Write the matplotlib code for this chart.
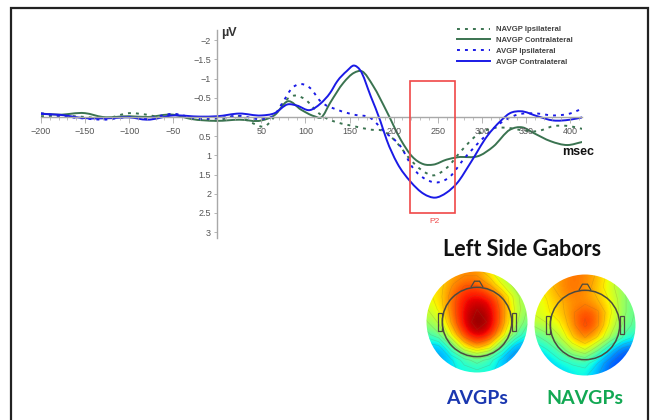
import numpy as np
import matplotlib.pyplot as plt
from matplotlib.lines import Line2D
from matplotlib.path import Path
from matplotlib.patches import Circle, PathPatch, Rectangle, Polygon

W, H = 650, 420

# ERP curves (ms, uV)
avgp_contra_t = [-200, -180, -150, -120, -100, -80, -50, -20, 0, 25, 50, 65, 80, 90, 105, 117, 128, 136, 147, 155,
                 162, 174, 185, 192, 204, 219, 234, 247, 260, 272, 287, 306, 321, 332, 344, 363, 381, 400, 414]
avgp_contra_v = [-0.08, -0.06, 0.03, 0.03, 0.01, 0.07, -0.04, -0.01, -0.02, -0.09, -0.04, -0.1, -0.33, -0.3, -0.18,
                 -0.35, -0.63, -0.93, -1.2, -1.34, -1.22, -0.54, 0.11, 0.59, 1.2, 1.68, 2.0, 2.1, 1.97, 1.72,
                 1.2, 0.5, 0.11, -0.1, -0.15, -0.02, 0.09, 0.07, 0.01]

navgp_contra_t = [-200, -180, -150, -130, -100, -80, -50, -30, 0, 25, 50, 65, 80, 95, 110, 118, 128, 143, 155, 164,
                  177, 192, 208, 221, 234, 245, 260, 272, 298, 313, 332, 346, 359, 378, 397, 414]
navgp_contra_v = [-0.09, -0.06, -0.1, 0.0, -0.02, 0.0, -0.06, 0.05, 0.1, 0.07, 0.09, -0.05, -0.41, -0.19, -0.02,
                  0.01, -0.37, -0.89, -1.15, -1.19, -0.8, -0.15, 0.59, 1.03, 1.23, 1.24, 1.11, 1.05, 1.0, 0.77,
                  0.33, 0.27, 0.42, 0.63, 0.73, 0.65]

avgp_ipsi_t = [-200, -170, -150, -130, -100, -80, -50, -20, 0, 25, 50, 65, 75, 85, 92, 105, 117, 136, 155, 174, 189,
               208, 222, 237, 251, 264, 279, 298, 321, 340, 363, 381, 400, 415]
avgp_ipsi_v = [-0.1, 0.0, 0.04, 0.07, 0.0, 0.03, -0.08, 0.05, 0.03, -0.03, 0.05, -0.06, -0.41, -0.76, -0.85, -0.76,
               -0.41, -0.19, -0.06, 0.03, 0.37, 0.77, 1.33, 1.63, 1.7, 1.55, 1.11, 0.63, 0.16, -0.06, -0.09,
               -0.04, -0.09, -0.23]

navgp_ipsi_t = [-200, -170, -150, -125, -100, -80, -65, -50, -25, 0, 25, 40, 55, 65, 75, 88, 100, 115, 125, 136, 155,
                174, 189, 204, 219, 234, 245, 260, 276, 295, 313, 332, 347, 363, 381, 400, 414]
navgp_ipsi_v = [-0.02, -0.03, 0.0, 0.03, -0.1, -0.06, 0.0, -0.06, 0.03, 0.09, -0.02, 0.16, 0.23, -0.02, -0.37, -0.56,
                -0.45, -0.1, 0.05, 0.14, 0.24, 0.33, 0.37, 0.68, 1.11, 1.42, 1.52, 1.33, 0.9, 0.46, 0.29, 0.29,
                0.35, 0.37, 0.24, 0.24, 0.31]

x_ticks = [-200, -150, -100, -50, 50, 100, 150, 200, 250, 300, 350, 400]
y_ticks = [-2, -1.5, -1, -0.5, 0.5, 1, 1.5, 2, 2.5, 3]
y_tick_labels = ["\u22122", "\u22121.5", "\u22121", "\u22120.5", "0.5", "1", "1.5", "2", "2.5", "3"]

# scalp maps: coarse grid, top row first, 0..1 on the jet scale
topo_avgp = [
    [.62, .68, .74, .76, .76, .68, .60, .54, .50],
    [.64, .70, .78, .84, .84, .78, .66, .58, .52],
    [.64, .70, .82, .90, .92, .90, .80, .64, .54],
    [.60, .68, .82, .92, .97, .94, .82, .66, .54],
    [.54, .62, .80, .93, 1.0, .96, .82, .64, .50],
    [.46, .54, .72, .88, .95, .91, .76, .56, .42],
    [.32, .34, .54, .72, .80, .74, .54, .34, .28],
    [.30, .28, .36, .46, .52, .46, .34, .25, .28],
    [.32, .32, .36, .38, .40, .38, .34, .30, .30],
]
topo_navgp = [
    [.64, .70, .76, .79, .77, .72, .64, .56, .50],
    [.64, .70, .76, .79, .76, .70, .63, .56, .50],
    [.62, .67, .72, .76, .76, .73, .66, .57, .48],
    [.62, .66, .70, .78, .84, .80, .68, .57, .48],
    [.56, .60, .66, .77, .86, .80, .65, .54, .46],
    [.46, .52, .60, .72, .79, .72, .60, .48, .40],
    [.36, .42, .50, .60, .66, .55, .40, .26, .23],
    [.31, .35, .40, .44, .46, .37, .25, .20, .20],
    [.30, .32, .34, .36, .38, .31, .23, .20, .20],
]

GREEN = "#3a7350"
BLUE = "#1a1ae6"
GRAY = "#a8a8a8"
TICK_TEXT = "#555555"
DOTTED = (0, (1.5, 2.6))
plt.rcParams["font.family"] = ["Liberation Sans", "DejaVu Sans"]

fig = plt.figure(figsize=(W / 100, H / 100), dpi=100)


def px_axes(left, top, right, bottom):
    return fig.add_axes([left / W, 1 - bottom / H, (right - left) / W, (bottom - top) / H])


def curve_path(t, v):
    # bezier segments through the read points, so the line stays round
    t = np.array(t, dtype=float)
    v = np.array(v, dtype=float)
    m = np.gradient(v, t)
    verts = [(t[0], v[0])]
    codes = [Path.MOVETO]
    for i in range(len(t) - 1):
        h = (t[i + 1] - t[i]) / 3
        verts += [(t[i] + h, v[i] + m[i] * h), (t[i + 1] - h, v[i + 1] - m[i + 1] * h), (t[i + 1], v[i + 1])]
        codes += [Path.CURVE4] * 3
    return Path(verts, codes)


# black frame, open at the bottom
frame = px_axes(0, 0, W, H)
frame.set_xlim(0, W)
frame.set_ylim(H, 0)
frame.axis("off")
frame.plot([11, 11, 648, 648], [H + 5, 7.5, 7.5, H + 5], color="#222222", lw=1.6, solid_joinstyle="miter", clip_on=True)

# ERP axes: -200 ms at 41 px, 400 ms at 570 px; -2 uV at 40 px, 3 uV at 232 px
ax = px_axes(41, 30, 582, 238)
ax.set_xlim(-200, (582 - 217.3) / 0.8817)
ax.set_ylim((238 - 117) / 38.4, (30 - 117) / 38.4)
ax.patch.set_alpha(0)
for side in ["top", "right"]:
    ax.spines[side].set_visible(False)
ax.spines["left"].set_position(("data", 0))
ax.spines["bottom"].set_position(("data", 0))
ax.spines["left"].set_color(GRAY)
ax.spines["bottom"].set_color(GRAY)
ax.spines["left"].set_linewidth(1.0)
ax.spines["bottom"].set_linewidth(1.0)

ax.set_xticks(x_ticks)
ax.set_xticks(np.arange(-200, 411, 10), minor=True)
ax.set_xticklabels([str(v).replace("-", "\u2212") for v in x_ticks], fontsize=6.5, color=TICK_TEXT)
ax.tick_params(axis="x", which="major", length=4, width=0.6, color=GRAY, pad=3)
ax.tick_params(axis="x", which="minor", length=2, width=0.5, color=GRAY)
ax.set_yticks(y_ticks)
ax.set_yticklabels(y_tick_labels, fontsize=6.5, color=TICK_TEXT)
ax.tick_params(axis="y", length=2.5, width=0.6, color=GRAY, pad=2)

series = [
    ("NAVGP Ipsilateral", navgp_ipsi_t, navgp_ipsi_v, GREEN, DOTTED),
    ("NAVGP Contralateral", navgp_contra_t, navgp_contra_v, GREEN, "-"),
    ("AVGP Ipsilateral", avgp_ipsi_t, avgp_ipsi_v, BLUE, DOTTED),
    ("AVGP Contralateral", avgp_contra_t, avgp_contra_v, BLUE, "-"),
]
handles = []
for label, t, v, color, style in series:
    ax.add_patch(PathPatch(curve_path(t, v), fill=False, ec=color, lw=1.4, ls=style))
    handles.append(Line2D([], [], color=color, lw=1.4, ls=style, label=label))

# P2 window
ax.add_patch(Rectangle((219, -0.95), 51, 3.45, fill=False, ec="#f04848", lw=1.2, zorder=5))
ax.text(246, 2.73, "P2", color="#f04848", fontsize=6, ha="center", va="center")

leg = fig.legend(handles=handles, loc="upper left", bbox_to_anchor=(457 / W, 1 - 26 / H), frameon=False,
                 handlelength=4.25, handletextpad=0.75, labelspacing=0.42, borderpad=0, borderaxespad=0,
                 prop={"weight": "bold", "size": 5.6})
for t in leg.get_texts():
    t.set_color("#444444")

frame.text(229, 33, "\u00b5V", fontsize=9, fontweight="bold", color="#333333", ha="center", va="center")
frame.text(578, 152, "msec", fontsize=9, fontweight="bold", color="#111111", ha="center", va="center")

# scalp maps
def draw_topo(cx, cy, grid):
    r = 51
    tax = px_axes(cx - r, cy - r, cx + r, cy + r)
    tax.set_xlim(-1, 1)
    tax.set_ylim(-1, 1)
    tax.axis("off")
    grid = np.array(grid)
    im = tax.imshow(grid, extent=(-1, 1, -1, 1), cmap="jet", vmin=0, vmax=1.0, interpolation="bicubic",
                    origin="upper", aspect="auto")
    disc = Circle((0, 0), 0.99, transform=tax.transData)
    im.set_clip_path(disc)
    gx = np.linspace(-1, 1, grid.shape[1])
    gy = np.linspace(1, -1, grid.shape[0])
    cs = tax.contour(gx, gy, grid, levels=np.arange(0.25, 1.0, 0.06), colors="#806030", linewidths=0.4, alpha=0.25)
    cs.set_clip_path(disc)
    # head outline, nose and ears
    line = "#4a4a40"
    tax.add_patch(Circle((0, 0), 0.68, fill=False, ec=line, lw=1.1))
    tax.add_patch(Polygon([(-0.12, 0.68), (-0.05, 0.8), (0.05, 0.8), (0.12, 0.68)], closed=False, fill=False, ec=line, lw=0.9))
    tax.add_patch(Rectangle((-0.76, -0.17), 0.08, 0.34, fill=False, ec=line, lw=0.9))
    tax.add_patch(Rectangle((0.68, -0.17), 0.08, 0.34, fill=False, ec=line, lw=0.9))


draw_topo(477, 322, topo_avgp)
draw_topo(585, 325, topo_navgp)

frame.text(522, 250, "Left Side Gabors", fontsize=15.5, fontweight="bold", family=["Lato", "DejaVu Sans"], color="#111111", ha="center", va="center")
frame.text(477, 398, "AVGPs", fontsize=14, fontweight="bold", family=["Lato", "DejaVu Sans"], color="#1a37b0", ha="center", va="center")
frame.text(585, 398, "NAVGPs", fontsize=14, fontweight="bold", family=["Lato", "DejaVu Sans"], color="#12a853", ha="center", va="center")

fig.savefig("out.png", dpi=100)
